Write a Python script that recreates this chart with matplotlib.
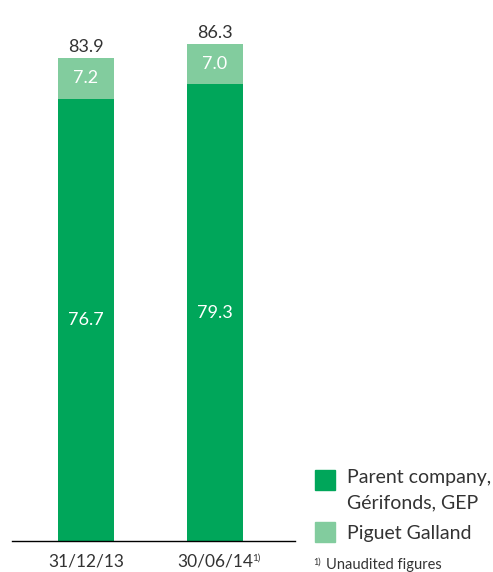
import matplotlib
matplotlib.use("Agg")
import matplotlib.pyplot as plt
from matplotlib.patches import Rectangle

plt.rcParams['font.family'] = ['Lato', 'DejaVu Sans']

dates = ['31/12/13', '30/06/14']
parent = [76.7, 79.3]
piguet = [7.2, 7.0]
totals = [83.9, 86.3]
series_names = ['Parent company,\nGérifonds, GEP', 'Piguet Galland']

dark = '#00a65a'
light = '#82cc9e'
grey = '#333333'

W, H = 493, 572
fig = plt.figure(figsize=(W / 100, H / 100), dpi=100)
# axes: x 12..295 px, baseline at 541 px, top at 20 px
ax = fig.add_axes([12 / W, 1 - 541 / H, 283 / W, 521 / H])

x = [0, 1]
bw = 0.434
ax.bar(x, parent, bw, color=dark)
ax.bar(x, piguet, bw, bottom=parent, color=light)

for i in x:
    ax.text(i, parent[i] / 2, f'{parent[i]:.1f}', ha='center', va='center',
            color='white', fontsize=13)
    ax.text(i, parent[i] + piguet[i] / 2, f'{piguet[i]:.1f}', ha='center',
            va='center', color='white', fontsize=13)
    ax.annotate(f'{totals[i]:.1f}', (i, totals[i]), xytext=(0, 2),
                textcoords='offset points', ha='center', va='bottom',
                color=grey, fontsize=13)

ax.set_xlim(-0.574, 1.62)
ax.set_ylim(0, 521 / 5.76)
ax.set_xticks(x)
ax.set_xticklabels(dates, color=grey, fontsize=12.5)
ax.tick_params(axis='x', length=0, pad=9)
ax.set_yticks([])
for s in ['left', 'right', 'top']:
    ax.spines[s].set_visible(False)
ax.spines['bottom'].set_linewidth(1)

# footnote marker on second date
fig.text(252 / W, 1 - 558 / H, '1)', fontsize=7, color=grey, ha='left', va='center')

# legend
leg_items = [(dark, 470), (light, 522)]
for col, top in leg_items:
    fig.patches.append(Rectangle((315 / W, 1 - (top + 20) / H), 20 / W, 20 / H,
                                 transform=fig.transFigure, color=col))
fig.text(347 / W, 1 - 478 / H, series_names[0].split('\n')[0], fontsize=14,
         color=grey, ha='left', va='center')
fig.text(347 / W, 1 - 503 / H, series_names[0].split('\n')[1], fontsize=14,
         color=grey, ha='left', va='center')
fig.text(347 / W, 1 - 533 / H, series_names[1], fontsize=14, color=grey,
         ha='left', va='center')
fig.text(313 / W, 1 - 562 / H, '1)', fontsize=6.5, color=grey, ha='left', va='center')
fig.text(326 / W, 1 - 565 / H, 'Unaudited figures', fontsize=10.5, color=grey,
         ha='left', va='center')

fig.savefig('out.png', dpi=100)
